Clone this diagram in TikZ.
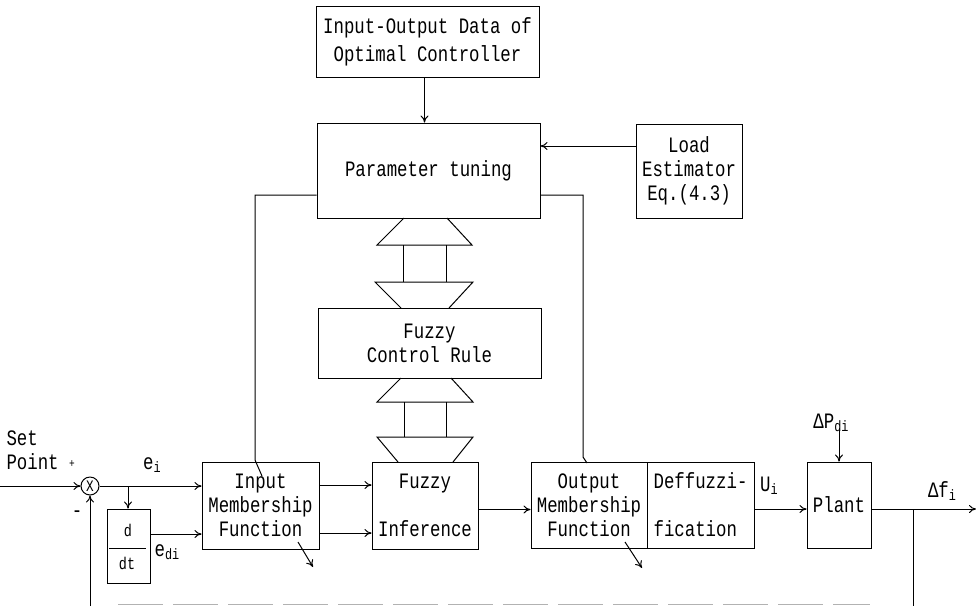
\documentclass[tikz,border=0pt]{standalone}
\usepackage{fontspec}
\newfontfamily\dmono[FakeStretch=0.79]{Liberation Mono}
\usetikzlibrary{arrows.meta,calc}
\newcommand\lowsub[1]{\raisebox{-3pt}{\fontsize{15}{15}\selectfont #1}}
\begin{document}
\begin{tikzpicture}[x=1pt,y=-1pt, line width=1pt,
  box/.style={draw, rectangle, inner sep=2pt, align=center, font=\dmono\fontsize{22}{24}\selectfont},
  lbl/.style={inner sep=0pt, font=\dmono\fontsize{22}{24}\selectfont},
  arr/.style={-{To[length=7pt,width=8pt]}}]
\useasboundingbox (0,0) rectangle (976,606);

% boxes
\node[box, minimum width=223pt, minimum height=71pt] (io) at (427.5,41.5) {Input-Output Data of\\[4pt]Optimal Controller};
\node[box, minimum width=223pt, minimum height=95pt] (pt) at (428.5,170.5) {Parameter tuning};
\node[box, minimum width=106pt, minimum height=94pt] (le) at (689,171) {Load\\Estimator\\Eq.(4.3)};
\node[box, minimum width=223pt, minimum height=70pt] (fcr) at (429.5,343) {Fuzzy\\Control Rule};
\node[box, minimum width=117pt, minimum height=87pt] (imf) at (260.5,505.5) {Input\\Membership\\Function};
\node[box, minimum width=106pt, minimum height=87pt] (fi) at (425,505.5) {Fuzzy\\[24pt]Inference};
\node[box, minimum width=116pt, minimum height=86pt] (omf) at (589,505) {Output\\Membership\\Function};
\node[box, minimum width=107pt, minimum height=86pt, align=left] (def) at (700.5,505) {Deffuzzi-\\[24pt]fication};
\node[box, minimum width=64pt, minimum height=86pt] (plant) at (839,505) {Plant};
\node[box, minimum width=43pt, minimum height=74pt] (ddt) at (128.5,546) {};
\node[lbl, font=\dmono\fontsize{17}{17}\selectfont] (dd) at (128,530) {d};
\draw (109,548) -- (146,548);
\node[lbl, font=\dmono\fontsize{17}{17}\selectfont] (dtt) at (127,563) {dt};
\node[draw, circle, minimum size=18pt, inner sep=0pt, font=\dmono\fontsize{16}{16}\selectfont] (sum) at (90,486) {X};

% trapezoids / links between parameter tuning, rule base and inference
\draw (404,218) -- (377,245) -- (472,245) -- (447,218);
\draw (403,245) -- (403,282) (446,245) -- (446,282);
\draw (401,308) -- (375,282) -- (473,282) -- (449,308);
\draw (401,378) -- (377,402) -- (473,402) -- (451,378);
\draw (404,402) -- (404,437) (446,402) -- (446,437);
\draw (398,462) -- (377,437) -- (473,437) -- (453,462);

% labels
\node[lbl, anchor=west] (set) at (6,438) {Set};
\node[lbl, anchor=west] (pnt) at (6,462) {Point};
\node[lbl, font=\dmono\fontsize{12}{12}\selectfont] (plus) at (72,464) {+};
\node[lbl] (minus) at (77,514) {-};
\node[lbl] (ei) at (152,465) {e\lowsub{i}};
\node[lbl] (edi) at (167,552) {e\lowsub{di}};
\node[lbl] (ui) at (769,486) {U\lowsub{i}};
\node[lbl] (dfi) at (942,491) {Δf\lowsub{i}};
\node[lbl] (dpdi) at (831,423) {ΔP\lowsub{di}};

% connectors
\draw[arr] ([xshift=-3pt]io.south) -- ([xshift=-3pt]io.south |- pt.north);
\draw[arr] ([yshift=25pt]le.west) -- ([yshift=25pt]le.west -| pt.east);
\draw ([yshift=-24.5pt]pt.west) -| (255,460) -- (262,476);
\draw ([yshift=-24.5pt]pt.east) -| (583,457) -- (587,463);

\coordinate (in) at (0,486);
\draw[arr] (in) -- (sum.west);
\draw[arr] (sum.east) -- (sum.east -| imf.west);
\coordinate (br) at (128,486);
\draw[arr] (br) -- (br |- ddt.north);
\draw[arr] ([yshift=12pt]ddt.east) -- ([yshift=12pt]ddt.east -| imf.west);
\draw[arr] ([yshift=20.5pt]imf.east) -- ([yshift=20.5pt]imf.east -| fi.west);
\draw[arr] ([yshift=-27.5pt]imf.east) -- ([yshift=-27.5pt]imf.east -| fi.west);
\draw[arr] ([yshift=-4pt]fi.east) -- ([yshift=-4pt]fi.east -| omf.west);
\draw[arr] ([yshift=-4pt]def.east) -- ([yshift=-4pt]def.east -| plant.west);
\coordinate (pd) at (839,428);
\draw[arr] (pd) -- (pd |- plant.north);
\coordinate (out) at (976,509);
\draw[arr] ([yshift=-4pt]plant.east) -- (out);
\coordinate (fb) at (913,509);
\coordinate (fbb) at (913,606);
\draw (fb) -- (fbb);
\coordinate (fbl) at (90,606);
\draw[arr] (fbl) -- (sum.south);
\draw[gray!60, line width=0.8pt, dash pattern=on 45pt off 10pt] (118,604.5) -- (870,604.5);

% small arrows below membership boxes
\coordinate (a1) at (298,542);
\coordinate (a2) at (313,567);
\draw[arr] (a1) -- (a2);
\coordinate (b1) at (625,542);
\coordinate (b2) at (642,568);
\draw[arr] (b1) -- (b2);
\end{tikzpicture}
\end{document}
